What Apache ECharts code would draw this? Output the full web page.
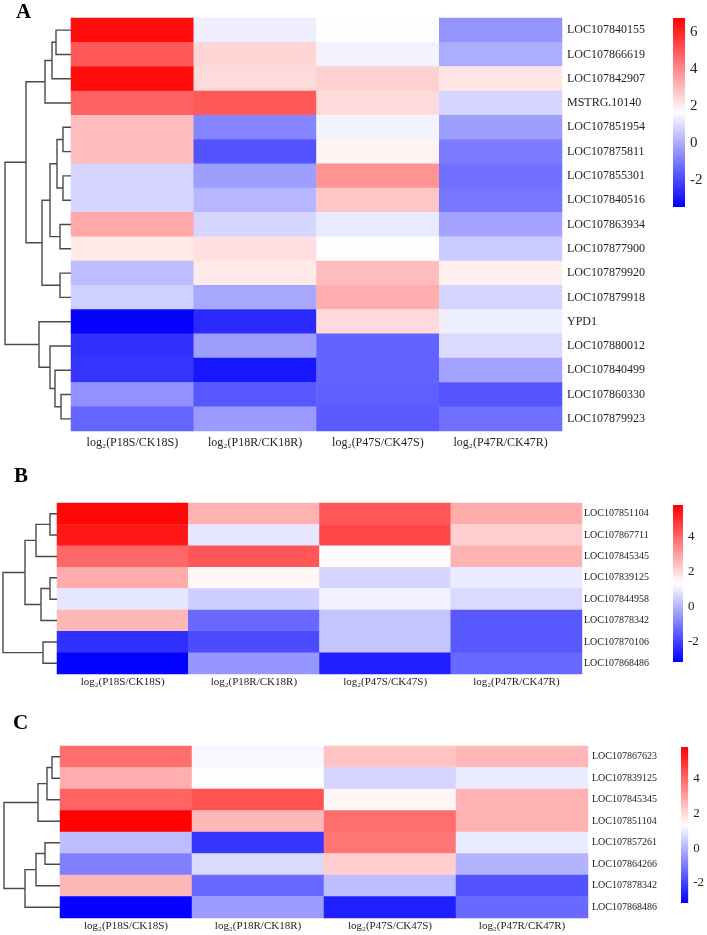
<!DOCTYPE html>
<html>
<head>
<meta charset="utf-8">
<script src="https://cdn.jsdelivr.net/npm/echarts@6/dist/echarts.min.js"></script>
<style>
html,body{margin:0;padding:0;background:#fff;}
#chart{width:707px;height:935px;}
</style>
</head>
<body>
<div id="chart"></div>
<script>
// ---------- data ----------
const columns = ['log\u2082(P18S/CK18S)', 'log\u2082(P18R/CK18R)', 'log\u2082(P47S/CK47S)', 'log\u2082(P47R/CK47R)'];

const genesA = ['LOC107840155','LOC107866619','LOC107842907','MSTRG.10140','LOC107851954','LOC107875811',
  'LOC107855301','LOC107840516','LOC107863934','LOC107877900','LOC107879920','LOC107879918','YPD1',
  'LOC107880012','LOC107840499','LOC107860330','LOC107879923'];
const valuesA = [
  [6.5, 1.3, 1.6, -0.5],
  [5.0, 2.5, 1.4, 0.0],
  [6.5, 2.4, 2.6, 2.2],
  [4.8, 5.0, 2.4, 0.8],
  [3.0, -0.8, 1.4, -0.3],
  [3.0, -1.8, 1.9, -1.0],
  [0.8, -0.3, 3.8, -1.2],
  [0.8, 0.2, 2.8, -1.1],
  [3.4, 0.8, 1.2, -0.2],
  [2.1, 2.3, 1.7, 0.6],
  [0.3, 2.1, 3.0, 2.0],
  [0.7, -0.1, 3.3, 0.8],
  [-3.4, -2.6, 2.4, 1.3],
  [-2.5, -0.3, -1.5, 0.9],
  [-2.4, -3.0, -1.5, -0.2],
  [-0.55, -1.7, -1.55, -1.75],
  [-1.45, -0.35, -1.65, -1.25]
];
// merges: [childA, childB, height]  (leaves 0..n-1, merge k gets id n+k)
const mergesA = [
  [0, 1, 15], [17, 2, 19], [18, 3, 26],
  [4, 5, 8], [6, 7, 8], [20, 21, 14], [8, 9, 11], [22, 23, 21], [10, 11, 11], [24, 25, 29],
  [19, 26, 45],
  [15, 16, 10], [14, 28, 16], [13, 29, 21], [12, 30, 32],
  [27, 31, 66]
];
const scaleA = [-3.46, 6.76];

const genesB = ['LOC107851104','LOC107867711','LOC107845345','LOC107839125','LOC107844958','LOC107878342','LOC107870106','LOC107868486'];
const valuesB = [
  [5.7, 2.7, 4.3, 2.8],
  [5.4, 0.9, 4.6, 2.2],
  [4.0, 4.3, 1.4, 2.7],
  [2.8, 1.5, 0.6, 1.0],
  [0.9, 0.5, 1.1, 0.7],
  [2.6, -1.3, 0.3, -1.6],
  [-2.3, -1.8, 0.3, -1.6],
  [-3.1, -0.5, -2.6, -1.3]
];
const mergesB = [
  [0, 1, 7], [8, 2, 21], [3, 4, 7], [10, 5, 16], [9, 11, 32], [6, 7, 14], [12, 13, 54]
];
const scaleB = [-3.14, 5.83];

const genesC = ['LOC107867623','LOC107839125','LOC107845345','LOC107851104','LOC107857261','LOC107864266','LOC107878342','LOC107868486'];
const valuesC = [
  [3.9, 1.2, 2.4, 2.6],
  [2.8, 1.4, 0.6, 1.0],
  [4.1, 4.4, 1.5, 2.7],
  [5.8, 2.6, 3.9, 2.7],
  [0.2, -2.2, 3.8, 1.0],
  [-0.9, 0.7, 2.2, 0.0],
  [2.6, -1.3, 0.2, -1.7],
  [-3.1, -0.4, -2.6, -1.3]
];
const mergesC = [
  [0, 1, 8], [8, 2, 13], [9, 3, 22], [4, 5, 15], [11, 6, 24], [12, 7, 35], [10, 13, 56]
];
const scaleC = [-3.16, 5.85];

const barTicks = [-2, 0, 2, 4, 6];

// ---------- helpers ----------
const SERIF = "'Times New Roman','Liberation Serif','DejaVu Serif',serif";
const COLORS = ['#0000ff', '#ffffff', '#ff0000'];

function heatData(vals) {
  const out = [];
  vals.forEach((row, r) => row.forEach((v, c) => out.push([c, r, v])));
  return out;
}
function dendro(n, merges) {
  const pos = [], h = [];
  for (let i = 0; i < n; i++) { pos[i] = i; h[i] = 0; }
  const lines = [];
  merges.forEach((m, k) => {
    const [a, b, hh] = m;
    lines.push({ coords: [[h[a], pos[a]], [hh, pos[a]], [hh, pos[b]], [h[b], pos[b]]] });
    pos[n + k] = (pos[a] + pos[b]) / 2;
    h[n + k] = hh;
  });
  return lines;
}

const panels = [
  { genes: genesA, vals: valuesA, merges: mergesA, scale: scaleA,
    heat: { left: 71, top: 18, width: 491, height: 413 },
    den: { left: 3, width: 68 }, denMax: 68,
    bar: { left: 673, top: 18, width: 12, height: 189 }, barMin: -4,
    rowFont: 12, colFont: 12, colMargin: 6, rowMargin: 5, barFont: 15 },
  { genes: genesB, vals: valuesB, merges: mergesB, scale: scaleB,
    heat: { left: 57, top: 503, width: 525, height: 171 },
    den: { left: 2, width: 55 }, denMax: 55,
    bar: { left: 673, top: 505, width: 10, height: 157 }, barMin: -4,
    rowFont: 10, colFont: 11, colMargin: 3, rowMargin: 2, barFont: 13 },
  { genes: genesC, vals: valuesC, merges: mergesC, scale: scaleC,
    heat: { left: 60, top: 746, width: 528, height: 172 },
    den: { left: 2, width: 58 }, denMax: 58,
    bar: { left: 681, top: 747, width: 11, height: 156 }, barMin: -4,
    rowFont: 10, colFont: 11, colMargin: 3, rowMargin: 4, barFont: 13 }
];

const grid = [], xAxis = [], yAxis = [], visualMap = [];
const heatSeries = [], otherSeries = [];

panels.forEach((p, i) => {
  const n = p.genes.length;
  // heatmap grid
  const gH = grid.length;
  grid.push({ left: p.heat.left, top: p.heat.top, width: p.heat.width, height: p.heat.height, containLabel: false });
  xAxis.push({ type: 'category', gridIndex: gH, data: columns, position: 'bottom',
    axisLine: { show: false }, axisTick: { show: false }, splitLine: { show: false },
    axisLabel: { fontFamily: SERIF, fontSize: p.colFont, color: '#222', margin: p.colMargin, interval: 0 } });
  yAxis.push({ type: 'category', gridIndex: gH, data: p.genes, inverse: true, position: 'right',
    axisLine: { show: false }, axisTick: { show: false }, splitLine: { show: false },
    axisLabel: { fontFamily: SERIF, fontSize: p.rowFont, color: '#222', margin: p.rowMargin, interval: 0 } });
  heatSeries.push({ type: 'heatmap', name: 'heat' + i, xAxisIndex: gH, yAxisIndex: gH,
    data: heatData(p.vals), progressive: 0, emphasis: { disabled: true }, itemStyle: { borderWidth: 0 } });

  // dendrogram grid
  const gD = grid.length;
  grid.push({ left: p.den.left, top: p.heat.top, width: p.den.width, height: p.heat.height });
  xAxis.push({ type: 'value', gridIndex: gD, min: 0, max: p.denMax, inverse: true, show: false });
  yAxis.push({ type: 'value', gridIndex: gD, min: -0.5, max: n - 0.5, inverse: true, show: false });
  otherSeries.push({ type: 'lines', coordinateSystem: 'cartesian2d', xAxisIndex: gD, yAxisIndex: gD,
    polyline: true, silent: true, data: dendro(n, p.merges),
    lineStyle: { color: '#4a4a4a', width: 1.4, opacity: 1 } });

  // colour bar grid
  const gB = grid.length;
  const pxPerUnit = p.bar.height / (p.scale[1] - p.scale[0]);
  const fullH = (p.scale[1] - p.barMin) * pxPerUnit;
  grid.push({ left: p.bar.left, top: p.bar.top, width: p.bar.width, height: fullH });
  xAxis.push({ type: 'value', gridIndex: gB, min: 0, max: 1, show: false });
  yAxis.push({ type: 'value', gridIndex: gB, min: p.barMin, max: p.scale[1], interval: 2, position: 'right',
    axisLine: { show: false }, axisTick: { show: false }, splitLine: { show: false },
    axisLabel: { fontFamily: SERIF, fontSize: p.barFont, color: '#222', margin: 5,
      showMinLabel: false, showMaxLabel: false,
      formatter: v => (barTicks.indexOf(v) >= 0 ? String(v) : '') } });
  otherSeries.push({ type: 'custom', xAxisIndex: gB, yAxisIndex: gB, silent: true,
    data: [[0, p.scale[0], p.scale[1]]],
    renderItem: function (params, api) {
      const top = api.coord([0, api.value(2)]);
      const bot = api.coord([1, api.value(1)]);
      return { type: 'rect',
        shape: { x: top[0], y: top[1], width: bot[0] - top[0], height: bot[1] - top[1] },
        style: { fill: new echarts.graphic.LinearGradient(0, 0, 0, 1, [
          { offset: 0, color: COLORS[2] }, { offset: 0.5, color: COLORS[1] }, { offset: 1, color: COLORS[0] }]) } };
    } });
});

heatSeries.forEach((s, i) => {
  visualMap.push({ type: 'continuous', show: false, seriesIndex: i, dimension: 2,
    min: panels[i].scale[0], max: panels[i].scale[1], inRange: { color: COLORS } });
});

const option = {
  backgroundColor: '#ffffff',
  animation: false,
  title: [
    { text: 'A', left: 16, top: 2, padding: 0, textStyle: { fontFamily: SERIF, fontWeight: 'bold', fontSize: 21, color: '#000' } },
    { text: 'B', left: 14, top: 466, padding: 0, textStyle: { fontFamily: SERIF, fontWeight: 'bold', fontSize: 21, color: '#000' } },
    { text: 'C', left: 13, top: 713, padding: 0, textStyle: { fontFamily: SERIF, fontWeight: 'bold', fontSize: 21, color: '#000' } }
  ],
  grid: grid, xAxis: xAxis, yAxis: yAxis, visualMap: visualMap,
  series: heatSeries.concat(otherSeries)
};

const chart = echarts.init(document.getElementById('chart'), null, { renderer: 'canvas' });
chart.setOption(option);
</script>
</body>
</html>
